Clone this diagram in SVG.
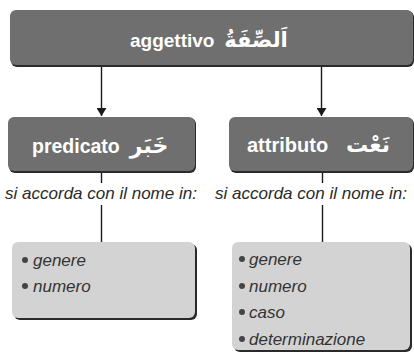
<svg xmlns="http://www.w3.org/2000/svg" width="414" height="353" viewBox="0 0 414 353">
<style>
.dark{fill:#6f6f6f}
.light{fill:#d3d3d3}
.shadow{fill:#2a2a2a}
.title{font-family:"Liberation Sans",Arial,sans-serif;font-weight:bold;fill:#ffffff}
.ar{font-family:"DejaVu Sans",sans-serif;font-weight:bold;fill:#ffffff}
.note{font-family:"Liberation Sans",Arial,sans-serif;font-style:italic;font-size:17px;fill:#2a2a2a}
.item{font-family:"Liberation Sans",Arial,sans-serif;font-style:italic;font-size:17px;fill:#333333}
.bullet{fill:#444444}
.conn{stroke:#1a1a1a;stroke-width:1.4;fill:none}
</style>
<defs>
<marker id="arr" viewBox="0 0 8 10" refX="8" refY="5" markerWidth="8" markerHeight="10" markerUnits="userSpaceOnUse" orient="auto">
<path d="M0,0 L8,5 L0,10 Z" fill="#1a1a1a"/>
</marker>
</defs>
<g id="connectors">
<line class="conn" x1="101.5" y1="66" x2="101.5" y2="116" marker-end="url(#arr)"/>
<line class="conn" x1="321.5" y1="66" x2="321.5" y2="116" marker-end="url(#arr)"/>
<line class="conn" x1="101.5" y1="171" x2="101.5" y2="183"/>
<line class="conn" x1="101.5" y1="205" x2="101.5" y2="242"/>
<line class="conn" x1="322.5" y1="171" x2="322.5" y2="183"/>
<line class="conn" x1="322.5" y1="205" x2="322.5" y2="242"/>
</g>
<g id="aggettivo">
<rect class="shadow" x="11" y="11" width="403" height="56" rx="6"/>
<rect class="dark" x="10" y="10" width="403" height="55" rx="6"/>
<text class="title" x="130" y="47" font-size="19">aggettivo</text>
<text class="ar" x="256" y="47" font-size="21" text-anchor="middle">اَلصِّفَةُ</text>
</g>
<g id="predicato">
<rect class="shadow" x="9" y="118" width="187" height="55" rx="6"/>
<rect class="dark" x="8" y="117" width="187" height="54" rx="6"/>
<text class="title" x="32" y="153" font-size="19.5">predicato</text>
<text class="ar" x="149" y="153" font-size="22" text-anchor="middle">خَبَر</text>
</g>
<g id="attributo">
<rect class="shadow" x="230" y="118" width="184" height="55" rx="6"/>
<rect class="dark" x="229" y="117" width="184" height="54" rx="6"/>
<text class="title" x="247" y="152" font-size="20">attributo</text>
<text class="ar" x="368" y="152" font-size="22" text-anchor="middle">نَعْت</text>
</g>
<g id="note-left">
<text class="note" x="101" y="199" text-anchor="middle">si accorda con il nome in:</text>
</g>
<g id="note-right">
<text class="note" x="311" y="199" text-anchor="middle">si accorda con il nome in:</text>
</g>
<g id="list-left">
<rect class="shadow" x="14" y="244" width="183" height="76" rx="6"/>
<rect class="light" x="12" y="242" width="183" height="76" rx="6"/>
<circle class="bullet" cx="25" cy="260" r="3"/>
<text class="item" x="33" y="266">genere</text>
<circle class="bullet" cx="25" cy="286" r="3"/>
<text class="item" x="33" y="292">numero</text>
</g>
<g id="list-right">
<rect class="shadow" x="234" y="244" width="178" height="108" rx="6"/>
<rect class="light" x="232" y="242" width="178" height="108" rx="6"/>
<circle class="bullet" cx="242" cy="259" r="3"/>
<text class="item" x="249" y="265">genere</text>
<circle class="bullet" cx="242" cy="286" r="3"/>
<text class="item" x="249" y="292">numero</text>
<circle class="bullet" cx="242" cy="312" r="3"/>
<text class="item" x="249" y="318">caso</text>
<circle class="bullet" cx="242" cy="339" r="3"/>
<text class="item" x="249" y="345">determinazione</text>
</g>
</svg>
